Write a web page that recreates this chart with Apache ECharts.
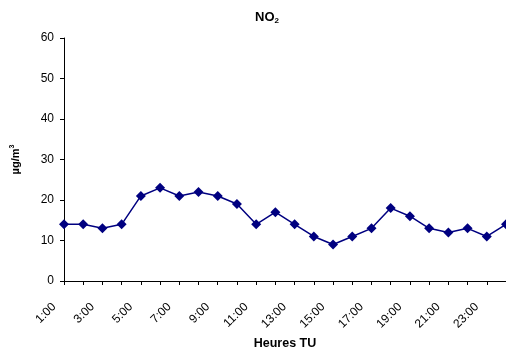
<!DOCTYPE html>
<html><head><meta charset="utf-8">
<script src="https://cdn.jsdelivr.net/npm/echarts@6/dist/echarts.min.js"></script>
<style>html,body{margin:0;padding:0;background:#fff}#c{width:506px;height:351px}</style>
</head><body><div id="c"></div>
<script>
var hours = ['1:00','2:00','3:00','4:00','5:00','6:00','7:00','8:00','9:00','10:00','11:00','12:00','13:00','14:00','15:00','16:00','17:00','18:00','19:00','20:00','21:00','22:00','23:00','24:00'];
var no2 = [14,14,13,14,21,23,21,22,21,19,14,17,14,11,9,11,13,18,16,13,12,13,11,14];
var yTicks = {min:0, max:60, interval:10};
var F = '"Liberation Sans", Arial, sans-serif';
var chart = echarts.init(document.getElementById('c'));
chart.setOption({
  animation:false,
  title:{
    text:'{a|NO}{b|2}', left:262, top:5, textAlign:'center',
    textStyle:{rich:{
      a:{fontFamily:F,fontWeight:'bold',fontSize:13,color:'#000'},
      b:{fontFamily:F,fontWeight:'bold',fontSize:8,color:'#000',verticalAlign:'bottom',padding:[7,0,0,0]}
    }}
  },
  grid:{left:64,right:0,top:38,bottom:70,containLabel:false,outerBoundsMode:'none'},
  xAxis:{
    type:'category', data:hours, boundaryGap:false,
    axisLine:{lineStyle:{color:'#000',width:1}},
    axisTick:{show:true,interval:0,length:4,lineStyle:{color:'#000'}},
    axisLabel:{interval:1,rotate:45,fontFamily:F,fontSize:12,color:'#000',margin:14,padding:[0,14,0,0]},
    name:'Heures TU', nameLocation:'middle', nameGap:51,
    nameTextStyle:{fontFamily:F,fontWeight:'bold',fontSize:12.5,color:'#000'}
  },
  yAxis:{
    type:'value', min:yTicks.min, max:yTicks.max, interval:yTicks.interval,
    splitLine:{show:false},
    axisLine:{show:true,lineStyle:{color:'#000',width:1}},
    axisTick:{show:true,length:4,lineStyle:{color:'#000'}},
    axisLabel:{fontFamily:F,fontSize:12,color:'#000',margin:10},
    name:'{a|µg/m}{b|3}', nameLocation:'middle', nameRotate:90, nameGap:41,
    nameTextStyle:{rich:{
      a:{fontFamily:F,fontWeight:'bold',fontSize:11,color:'#000'},
      b:{fontFamily:F,fontWeight:'bold',fontSize:7,color:'#000',verticalAlign:'top',padding:[0,0,7,0]}
    }}
  },
  series:[{
    type:'line', data:no2, symbol:'diamond', symbolSize:10,
    lineStyle:{color:'#000080',width:1.5},
    itemStyle:{color:'#000080'}
  }]
});
</script></body></html>
